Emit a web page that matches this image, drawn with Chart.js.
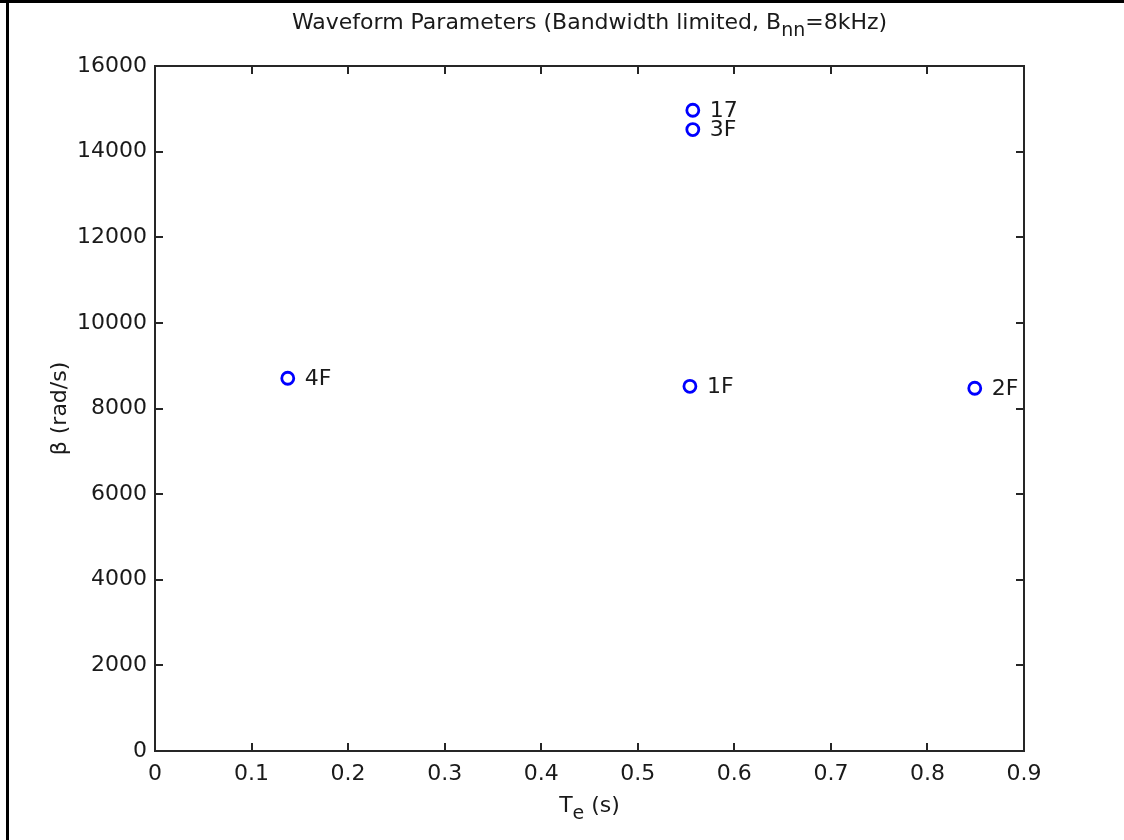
<!DOCTYPE html>
<html>
<head>
<meta charset="utf-8">
<script src="https://cdn.jsdelivr.net/npm/chart.js@4.4.1/dist/chart.umd.min.js"></script>
<style>
  html, body { margin: 0; padding: 0; background: #fff; }
  #wrap { width: 1124px; height: 840px; position: relative; }
</style>
</head>
<body>
<div id="wrap"><canvas id="graph" width="1124" height="840"></canvas></div>
<script>
// waveform points
const pointLabels = ["4F", "1F", "2F", "17", "3F"];
const teValues = [0.1375, 0.554, 0.849, 0.557, 0.557];
const betaValues = [8706, 8519, 8473, 14966, 14515];

const xTickValues = [0, 0.1, 0.2, 0.3, 0.4, 0.5, 0.6, 0.7, 0.8, 0.9];
const yTickValues = [0, 2000, 4000, 6000, 8000, 10000, 12000, 14000, 16000];

const FONT = "'DejaVu Sans', Verdana, sans-serif";
const FS = 22;

const ctx = document.getElementById("graph").getContext("2d");

const matlabAxes = {
  id: "matlabAxes",
  afterDraw(chart) {
    const { ctx, chartArea: a, scales } = chart;
    ctx.save();
    // figure frame (left + top)
    ctx.fillStyle = "#000";
    ctx.fillRect(6, 0, 3, 840);
    ctx.fillRect(0, 0, 1124, 3);

    // axes box
    ctx.strokeStyle = "#262626";
    ctx.lineWidth = 2;
    ctx.strokeRect(a.left, a.top, a.right - a.left, a.bottom - a.top);

    // inward ticks on all four sides
    const tl = 8;
    ctx.beginPath();
    xTickValues.forEach(v => {
      const x = Math.round(scales.x.getPixelForValue(v));
      ctx.moveTo(x, a.bottom); ctx.lineTo(x, a.bottom - tl);
      ctx.moveTo(x, a.top); ctx.lineTo(x, a.top + tl);
    });
    yTickValues.forEach(v => {
      const y = Math.round(scales.y.getPixelForValue(v));
      ctx.moveTo(a.left, y); ctx.lineTo(a.left + tl, y);
      ctx.moveTo(a.right, y); ctx.lineTo(a.right - tl, y);
    });
    ctx.stroke();

    // point labels
    ctx.fillStyle = "#1a1a1a";
    ctx.font = `${FS}px ${FONT}`;
    ctx.textAlign = "left";
    ctx.textBaseline = "middle";
    pointLabels.forEach((lab, i) => {
      const x = scales.x.getPixelForValue(teValues[i]);
      const y = scales.y.getPixelForValue(betaValues[i]);
      ctx.fillText(lab, x + 17, y + 1);
    });

    // title with subscript
    const mid = (a.left + a.right) / 2;
    const parts = [
      ["Waveform Parameters (Bandwidth limited, B", 0, FS],
      ["nn", 8, FS - 3],
      ["=8kHz)", 0, FS]
    ];
    let total = 0;
    parts.forEach(p => { ctx.font = `${p[2]}px ${FONT}`; total += ctx.measureText(p[0]).width; });
    let x0 = mid - total / 2;
    parts.forEach(p => {
      ctx.font = `${p[2]}px ${FONT}`;
      ctx.fillText(p[0], x0, 23 + p[1]);
      x0 += ctx.measureText(p[0]).width;
    });

    // x axis title T_e (s)
    const xparts = [["T", 0, FS], ["e", 8, FS - 3], [" (s)", 0, FS]];
    total = 0;
    xparts.forEach(p => { ctx.font = `${p[2]}px ${FONT}`; total += ctx.measureText(p[0]).width; });
    x0 = mid - total / 2;
    xparts.forEach(p => {
      ctx.font = `${p[2]}px ${FONT}`;
      ctx.fillText(p[0], x0, 806 + p[1]);
      x0 += ctx.measureText(p[0]).width;
    });

    // y axis title
    ctx.font = `${FS}px ${FONT}`;
    ctx.translate(60, (a.top + a.bottom) / 2);
    ctx.rotate(-Math.PI / 2);
    ctx.textAlign = "center";
    ctx.fillText("\u03B2 (rad/s)", 0, 0);
    ctx.restore();
  }
};

const chart = new Chart(ctx, {
  type: "scatter",
  data: {
    datasets: [{
      data: teValues.map((t, i) => ({ x: t, y: betaValues[i] })),
      showLine: false,
      pointStyle: "circle",
      pointRadius: 6,
      pointBorderWidth: 2.8,
      pointBorderColor: "#0000ff",
      pointBackgroundColor: "rgba(0,0,0,0)"
    }]
  },
  options: {
    responsive: false,
    animation: false,
    layout: { padding: { top: 66, right: 100, left: 0, bottom: 0 } },
    plugins: {
      legend: { display: false },
      title: { display: false },
      tooltip: { enabled: false }
    },
    scales: {
      x: {
        type: "linear",
        min: 0,
        max: 0.9,
        afterBuildTicks: s => { s.ticks = xTickValues.map(v => ({ value: v })); },
        afterFit: s => { s.height = 89; },
        grid: { display: false },
        border: { display: false },
        ticks: {
          color: "#1a1a1a",
          font: { family: FONT, size: FS },
          padding: 2,
          maxRotation: 0,
          autoSkip: false,
          callback: v => (v === 0 ? "0" : v.toFixed(1))
        }
      },
      y: {
        type: "linear",
        min: 0,
        max: 16000,
        afterBuildTicks: s => { s.ticks = yTickValues.map(v => ({ value: v })); },
        afterFit: s => { s.width = 155; },
        grid: { display: false },
        border: { display: false },
        ticks: {
          color: "#1a1a1a",
          font: { family: FONT, size: FS },
          padding: 0,
          autoSkip: false,
          callback: v => String(v)
        }
      }
    }
  },
  plugins: [matlabAxes]
});
</script>
</body>
</html>
